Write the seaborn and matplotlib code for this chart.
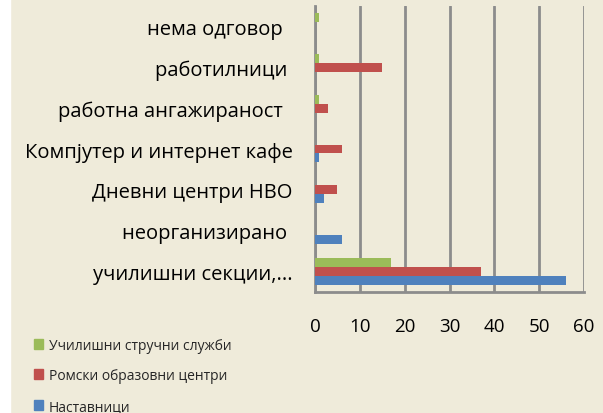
import numpy as np
import pandas as pd
import matplotlib
matplotlib.use("Agg")
import matplotlib.pyplot as plt
import seaborn as sns

categories = ["нема одговор  ", "работилници ", "работна ангажираност  ",
              "Компјутер и интернет кафе", "Дневни центри НВО",
              "неорганизирано ", "училишни секции,..."]
series = ["Училишни стручни служби", "Ромски образовни центри", "Наставници"]
strucni = [1, 1, 1, 0, 0, 0, 17]
romski = [0, 15, 3, 6, 5, 0, 37]
nastavnici = [0, 0, 0, 1, 2, 6, 56]
colors = ["#9BBB59", "#C0504D", "#4F81BD"]
ticks = [0, 10, 20, 30, 40, 50, 60]

df = pd.DataFrame({
    "category": categories * 3,
    "series": [series[0]] * 7 + [series[1]] * 7 + [series[2]] * 7,
    "value": strucni + romski + nastavnici,
})

bg = "#EFEBDA"
sns.set_style("white")
plt.rcParams["font.family"] = ["Open Sans", "DejaVu Sans"]

fig = plt.figure(figsize=(6.03, 4.14), dpi=100)
fig.patch.set_facecolor(bg)
fig.patches.append(plt.Rectangle((0, 0), 10 / 603, 1, transform=fig.transFigure,
                                 color="white", zorder=0))
ax = fig.add_axes([315 / 603, 121 / 414, 269 / 603, 286 / 414])
ax.set_facecolor(bg)

sns.barplot(data=df, y="category", x="value", hue="series", hue_order=series,
            palette=colors, orient="h", width=0.66, ax=ax, legend=False,
            saturation=1, linewidth=0, zorder=3)

ax.set_xlim(0, 60)
ax.set_xticks(ticks)
ax.set_xticklabels([str(t) for t in ticks])
ax.grid(axis="x", color="#8C8C8C", linewidth=2, zorder=0)
ax.grid(axis="y", visible=False)
for s in ["top", "right"]:
    ax.spines[s].set_visible(False)
for s in ["left", "bottom"]:
    ax.spines[s].set_color("#8C8C8C")
    ax.spines[s].set_linewidth(2)
ax.tick_params(axis="both", length=0, colors="black")
ax.tick_params(axis="x", pad=18, labelsize=13.5)
ax.tick_params(axis="y", pad=16, labelsize=14.5)
ax.set_xlabel("")
ax.set_ylabel("")

handles = [plt.Rectangle((0, 0), 1, 1, color=c) for c in colors]
fig.legend(handles, series, loc="upper left", bbox_to_anchor=(28 / 603, 1 - 333 / 414),
           frameon=False, fontsize=10, labelspacing=1.12, handlelength=0.7,
           handleheight=0.7, handletextpad=0.4, borderaxespad=0)

fig.savefig("out.png", dpi=100, facecolor=fig.get_facecolor())
